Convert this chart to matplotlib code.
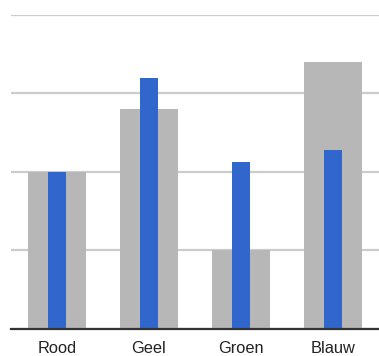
import matplotlib
matplotlib.use("Agg")
import matplotlib.pyplot as plt
import numpy as np

categories = ["Rood", "Geel", "Groen", "Blauw"]
gray_values = [20, 28, 10, 34]
blue_values = [20, 32, 21.2, 22.8]
y_ticks = [0, 10, 20, 30, 40]

W, H = 379, 356
fig = plt.figure(figsize=(W / 100, H / 100), dpi=100)
ax = fig.add_axes([11 / W, (H - 328.5) / H, 368 / W, (328.5 - 15) / H])

x = np.arange(len(categories))
ax.bar(x, gray_values, width=0.62, color="#b7b7b7", zorder=2)
ax.bar(x, blue_values, width=0.196, color="#3166cc", zorder=3)

ax.set_xlim(-0.5, len(categories) - 0.5)
ax.set_ylim(0, 40)
ax.set_yticks(y_ticks)
ax.yaxis.grid(True, color="#cccccc", linewidth=1.6, zorder=1)
ax.tick_params(axis="y", left=False, labelleft=False)
ax.set_xticks(x)
ax.set_xticklabels(categories, fontsize=11.8, color="#222222", family="Liberation Sans")
ax.tick_params(axis="x", length=0, pad=9)

for side in ["top", "right", "left"]:
    ax.spines[side].set_visible(False)
ax.spines["bottom"].set_color("#333333")
ax.spines["bottom"].set_linewidth(1.6)
ax.spines["bottom"].set_zorder(4)
ax.set_clip_on(False)

fig.savefig("out.png", dpi=100)
